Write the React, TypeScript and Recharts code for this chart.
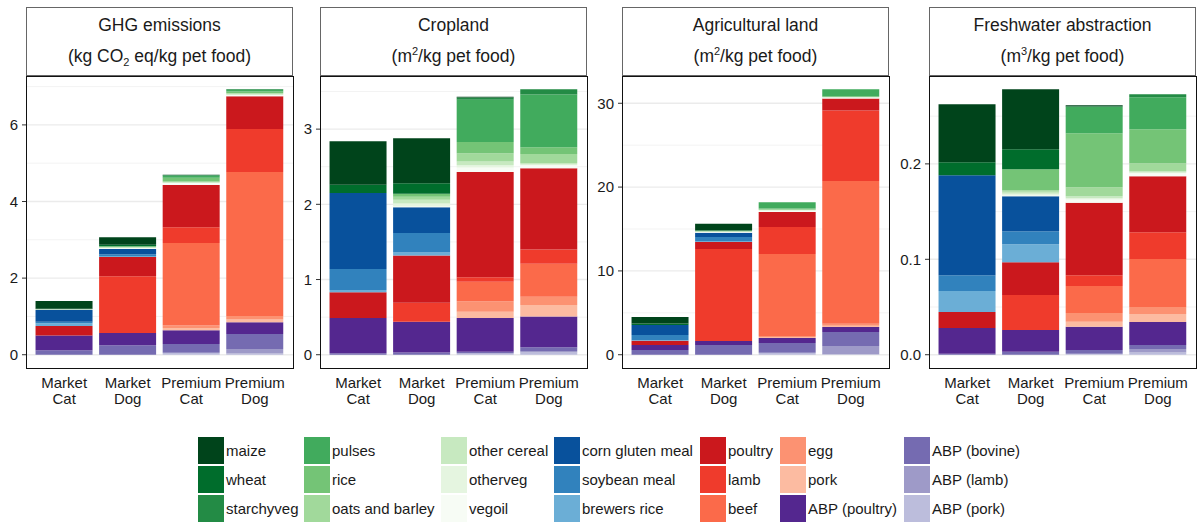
import React from "react"
import { BarChart, Bar, XAxis, YAxis, CartesianGrid } from "recharts"

const FONT = '"Liberation Sans", Arial, Helvetica, sans-serif'

const categories = ["Market Cat", "Market Dog", "Premium Cat", "Premium Dog"]

// legend order (ggplot stacks the first level on top)
const ingredients = [
  "maize", "wheat", "starchyveg",
  "pulses", "rice", "oats and barley",
  "other cereal", "otherveg", "vegoil",
  "corn gluten meal", "soybean meal", "brewers rice",
  "poultry", "lamb", "beef",
  "egg", "pork", "ABP (poultry)",
  "ABP (bovine)", "ABP (lamb)", "ABP (pork)",
]

const ingredientColors = [
  "#00441B", "#006D2C", "#238B45",
  "#41AB5D", "#74C476", "#A1D99B",
  "#C7E9C0", "#E5F5E0", "#F7FCF5",
  "#08519C", "#3182BD", "#6BAED6",
  "#CB181D", "#EF3B2C", "#FB6A4A",
  "#FC9272", "#FCBBA1", "#54278F",
  "#756BB1", "#9E9AC8", "#BCBDDC",
]

// one row per category, values in legend order
const ghgValues = [
  [0.2, 0.01, 0, 0, 0, 0, 0, 0, 0.02, 0.31, 0.04, 0.07, 0.25, 0, 0, 0, 0, 0.38, 0.12, 0, 0],
  [0.2, 0.03, 0.01, 0, 0.02, 0.01, 0.01, 0.01, 0.02, 0.14, 0.04, 0.03, 0.5, 1.48, 0, 0, 0, 0.32, 0.25, 0, 0],
  [0.01, 0.01, 0.01, 0.05, 0.1, 0.02, 0.01, 0.01, 0.05, 0, 0, 0, 1.1, 0.41, 2.16, 0.06, 0.06, 0.36, 0.23, 0, 0.05],
  [0, 0, 0.02, 0.04, 0.04, 0.02, 0.02, 0.01, 0.03, 0, 0, 0, 0.86, 1.12, 3.76, 0.09, 0.07, 0.31, 0.39, 0.12, 0.03],
]

const croplandValues = [
  [0.58, 0.11, 0, 0, 0, 0, 0, 0, 0, 1.01, 0.28, 0.03, 0.34, 0, 0, 0, 0, 0.47, 0.02, 0, 0],
  [0.6, 0.14, 0, 0, 0.04, 0.04, 0.05, 0.04, 0.01, 0.34, 0.26, 0.04, 0.63, 0.25, 0, 0, 0, 0.41, 0.03, 0, 0],
  [0.01, 0, 0.03, 0.56, 0.15, 0.11, 0.05, 0.03, 0.06, 0, 0, 0, 1.4, 0.06, 0.26, 0.14, 0.08, 0.45, 0.02, 0, 0.02],
  [0, 0, 0.07, 0.7, 0.09, 0.12, 0.02, 0.01, 0.04, 0, 0, 0, 1.08, 0.19, 0.44, 0.11, 0.15, 0.41, 0.05, 0.02, 0.03],
]

const agriLandValues = [
  [0.76, 0.2, 0, 0, 0, 0, 0, 0, 0, 1.19, 0.63, 0.05, 0.52, 0, 0, 0, 0, 0.59, 0.56, 0, 0],
  [0.8, 0.06, 0, 0, 0.05, 0.03, 0.03, 0.03, 0.08, 0.51, 0.55, 0.05, 0.84, 10.98, 0, 0, 0, 0.48, 1.15, 0, 0],
  [0, 0, 0, 0.76, 0.12, 0.05, 0.04, 0.04, 0.16, 0, 0, 0, 1.79, 3.22, 9.79, 0.12, 0.12, 0.6, 1.15, 0, 0.24],
  [0, 0, 0, 0.83, 0.08, 0.04, 0, 0.04, 0.12, 0, 0, 0, 1.43, 8.4, 17.03, 0.24, 0.16, 0.59, 1.68, 0.98, 0.05],
]

const freshwaterValues = [
  [0.0608, 0.0137, 0, 0, 0, 0, 0, 0, 0, 0.1046, 0.0167, 0.022, 0.0167, 0, 0, 0, 0, 0.027, 0.001, 0, 0],
  [0.0628, 0.021, 0, 0, 0.022, 0.0017, 0.0019, 0.002, 0.0007, 0.0366, 0.0136, 0.0189, 0.0345, 0.0367, 0, 0, 0, 0.0228, 0.003, 0, 0],
  [0.001, 0.0004, 0, 0.0279, 0.0565, 0.0095, 0.002, 0.0015, 0.0034, 0, 0, 0, 0.0758, 0.0115, 0.0283, 0.0091, 0.0052, 0.0243, 0.004, 0, 0.001],
  [0, 0, 0.0032, 0.0335, 0.0356, 0.0084, 0.0013, 0.0008, 0.0031, 0, 0, 0, 0.0587, 0.0282, 0.0503, 0.0073, 0.0084, 0.0241, 0.0042, 0.0035, 0.0024],
]

const ghgTicks = [0, 2, 4, 6]
const ghgMinor = [1, 3, 5, 7]
const croplandTicks = [0, 1, 2, 3]
const croplandMinor = [0.5, 1.5, 2.5, 3.5]
const agriLandTicks = [0, 10, 20, 30]
const agriLandMinor = [5, 15, 25]
const freshwaterTicks = [0, 0.1, 0.2]
const freshwaterMinor = [0.05, 0.15, 0.25]

const PLOT_W = 267
const PLOT_H = 292
const PLOT_TOP = 76
const AXIS_W = 40
const X_AXIS_H = 50

const buildRows = (values: number[][]) =>
  categories.map((cat, ci) => {
    const row: Record<string, any> = { category: cat }
    ingredients.forEach((_, ii) => {
      row[`s${ii}`] = values[ci][ii]
    })
    return row
  })

const CatTick = (props: any) => {
  const { x, y, payload } = props
  const [a, b] = String(payload.value).split(" ")
  return (
    <text x={x} y={y} textAnchor="middle" fontSize={15} fill="#1a1a1a" fontFamily={FONT}>
      <tspan x={x} dy={20}>{a}</tspan>
      <tspan x={x} dy={16}>{b}</tspan>
    </text>
  )
}

function Panel({
  left,
  title,
  unit,
  values,
  ticks,
  minor,
  digits,
}: {
  left: number
  title: string
  unit: React.ReactNode
  values: number[][]
  ticks: number[]
  minor: number[]
  digits: number
}) {
  const rows = buildRows(values)
  const maxTotal = Math.max(...values.map((r) => r.reduce((s, v) => s + v, 0)))
  const domain = [-0.05 * maxTotal, 1.05 * maxTotal]
  const pad = PLOT_W / 4.2 / 10
  const stackOrder = ingredients.map((_, i) => i).reverse()

  return (
    <>
      <div
        style={{
          position: "absolute",
          left,
          top: 7,
          width: PLOT_W,
          height: PLOT_TOP - 7,
          border: "1px solid #666",
          boxSizing: "border-box",
          background: "#fff",
          fontFamily: FONT,
          fontSize: 17.5,
          color: "#1a1a1a",
          textAlign: "center",
        }}
      >
        <div style={{ position: "absolute", left: 0, right: 0, top: 7, lineHeight: "20px" }}>{title}</div>
        <div style={{ position: "absolute", left: 0, right: 0, top: 38, lineHeight: "20px" }}>{unit}</div>
      </div>
      <div style={{ position: "absolute", left: left - AXIS_W, top: PLOT_TOP }}>
        <BarChart
          width={AXIS_W + PLOT_W}
          height={PLOT_H + X_AXIS_H}
          data={rows}
          margin={{ top: 0, right: 0, bottom: 0, left: 0 }}
          barCategoryGap="5%"
        >
          <CartesianGrid horizontalValues={minor} vertical={false} stroke="#F3F3F3" strokeWidth={1} />
          <CartesianGrid horizontalValues={ticks} vertical={false} stroke="#EBEBEB" strokeWidth={1.4} />
          <XAxis
            dataKey="category"
            axisLine={false}
            tickLine={false}
            tickSize={0}
            tickMargin={0}
            height={X_AXIS_H}
            padding={{ left: pad, right: pad }}
            tick={<CatTick />}
            interval={0}
          />
          <YAxis
            type="number"
            width={AXIS_W}
            domain={domain}
            allowDataOverflow
            ticks={ticks}
            axisLine={false}
            tickLine={{ stroke: "#333" }}
            tickSize={4}
            tickMargin={4}
            tick={{ fontSize: 15, fill: "#1a1a1a", fontFamily: FONT }}
            tickFormatter={(v: number) => v.toFixed(digits)}
          />
          {stackOrder.map((i) => (
            <Bar key={i} dataKey={`s${i}`} stackId="a" fill={ingredientColors[i]} isAnimationActive={false} />
          ))}
        </BarChart>
      </div>
      <div
        style={{
          position: "absolute",
          left: left - 0.5,
          top: PLOT_TOP - 0.5,
          width: PLOT_W + 1,
          height: PLOT_H + 1,
          border: "1.5px solid #111",
          boxSizing: "border-box",
          pointerEvents: "none",
        }}
      />
    </>
  )
}

const sup = (s: string) => <span style={{ fontSize: 11, position: "relative", top: -7 }}>{s}</span>
const sub = (s: string) => <span style={{ fontSize: 11, position: "relative", top: 4 }}>{s}</span>

const legendCols = [198, 304, 441, 554, 700, 780, 904]
const legendRows = [437, 466, 495]

export default function App() {
  return (
    <div style={{ position: "absolute", left: 0, top: 0, width: 1198, height: 524, background: "#fff", overflow: "hidden" }}>
      <Panel
        left={26}
        title="GHG emissions"
        unit={<>(kg CO{sub("2")} eq/kg pet food)</>}
        values={ghgValues}
        ticks={ghgTicks}
        minor={ghgMinor}
        digits={0}
      />
      <Panel
        left={320}
        title="Cropland"
        unit={<>(m{sup("2")}/kg pet food)</>}
        values={croplandValues}
        ticks={croplandTicks}
        minor={croplandMinor}
        digits={0}
      />
      <Panel
        left={622}
        title="Agricultural land"
        unit={<>(m{sup("2")}/kg pet food)</>}
        values={agriLandValues}
        ticks={agriLandTicks}
        minor={agriLandMinor}
        digits={0}
      />
      <Panel
        left={929}
        title="Freshwater abstraction"
        unit={<>(m{sup("3")}/kg pet food)</>}
        values={freshwaterValues}
        ticks={freshwaterTicks}
        minor={freshwaterMinor}
        digits={1}
      />
      {ingredients.map((name, i) => (
        <div
          key={name}
          style={{
            position: "absolute",
            left: legendCols[Math.floor(i / 3)],
            top: legendRows[i % 3],
            height: 27,
            display: "flex",
            alignItems: "center",
            fontFamily: FONT,
            fontSize: 15,
            color: "#1a1a1a",
            whiteSpace: "nowrap",
          }}
        >
          <div style={{ width: 26, height: 27, background: ingredientColors[i], marginRight: 2 }} />
          <span>{name}</span>
        </div>
      ))}
    </div>
  )
}
